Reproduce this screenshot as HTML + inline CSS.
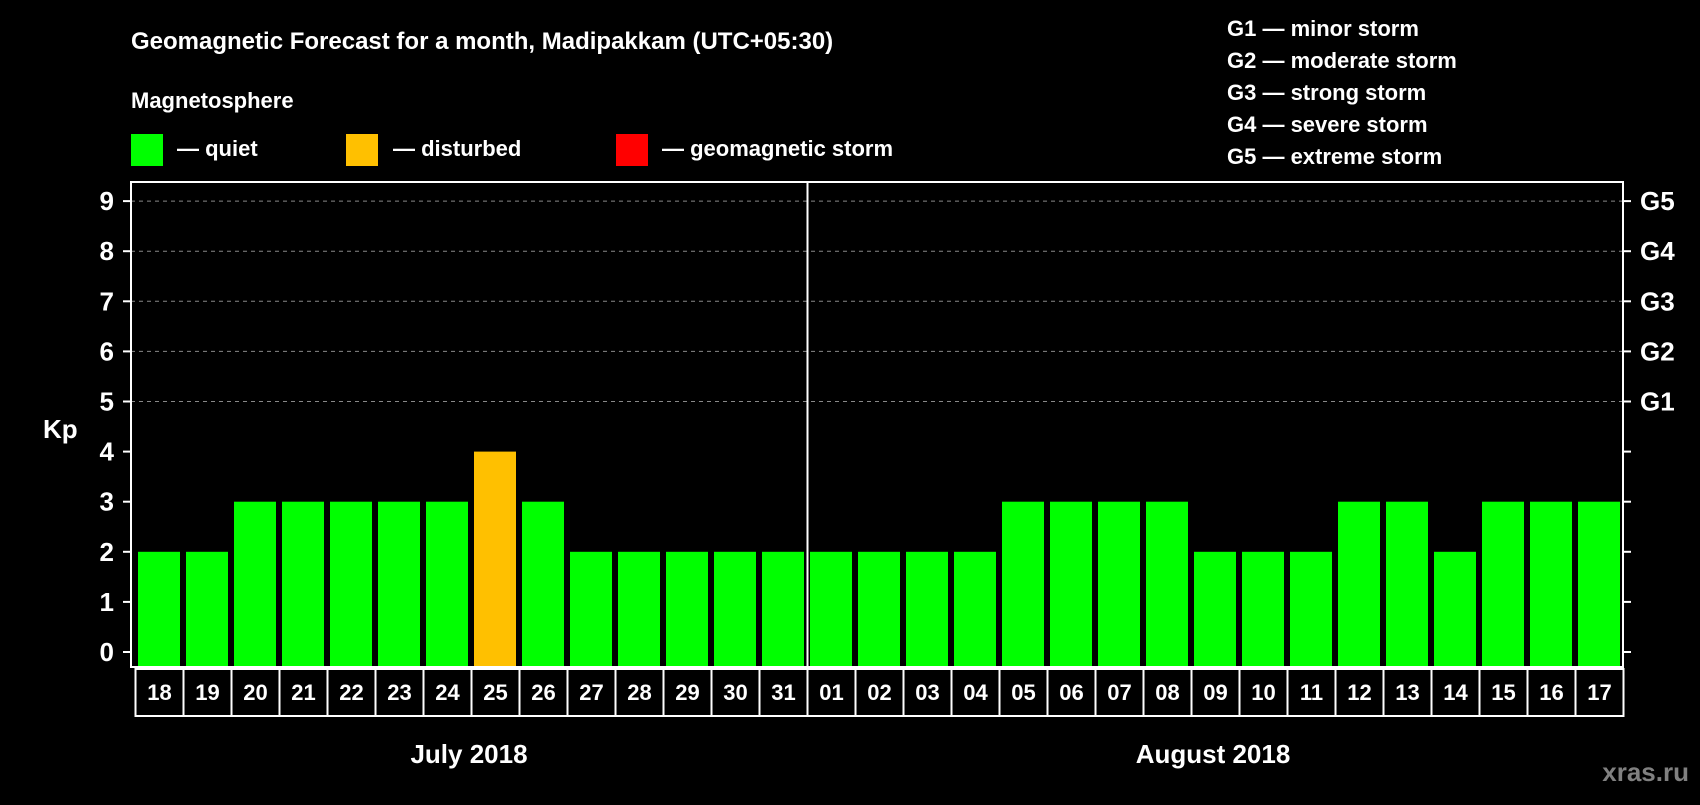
<!DOCTYPE html>
<html><head><meta charset="utf-8"><style>
body{margin:0;background:#000;width:1700px;height:800px;overflow:hidden}
svg text{font-family:"Liberation Sans",Arial,sans-serif;font-weight:bold;fill:#fff}
</style></head><body>
<svg id="c" width="1700" height="800">
<text x="131" y="49" font-size="24">Geomagnetic Forecast for a month, Madipakkam (UTC+05:30)</text>
<text x="131" y="108" font-size="22">Magnetosphere</text>
<rect x="131" y="134" width="32" height="32" fill="#00ff00"/>
<text x="177" y="156" font-size="22">— quiet</text>
<rect x="346" y="134" width="32" height="32" fill="#ffc000"/>
<text x="393" y="156" font-size="22">— disturbed</text>
<rect x="616" y="134" width="32" height="32" fill="#ff0000"/>
<text x="662" y="156" font-size="22">— geomagnetic storm</text>
<g font-size="22">
<text x="1227" y="36">G1 — minor storm</text>
<text x="1227" y="68">G2 — moderate storm</text>
<text x="1227" y="100">G3 — strong storm</text>
<text x="1227" y="132">G4 — severe storm</text>
<text x="1227" y="164">G5 — extreme storm</text>
</g>
<text x="43" y="438" font-size="26">Kp</text>
<text x="469" y="763" font-size="26" text-anchor="middle">July 2018</text>
<text x="1213" y="763" font-size="26" text-anchor="middle">August 2018</text>
<text x="1689" y="781" font-size="26" text-anchor="end" style="fill:#808080">xras.ru</text>
<g id="plot"></g>
</svg>
<script>
const days=["18","19","20","21","22","23","24","25","26","27","28","29","30","31","01","02","03","04","05","06","07","08","09","10","11","12","13","14","15","16","17"];
const kp=[2,2,3,3,3,3,3,4,3,2,2,2,2,2,2,2,2,2,3,3,3,3,2,2,2,3,3,2,3,3,3];
const yTicks=[0,1,2,3,4,5,6,7,8,9];
const gLabels=["G1","G2","G3","G4","G5"];
const NS="http://www.w3.org/2000/svg";
const g=document.getElementById('plot');
const L=131,R=1623,T=182,B=667,Y0=652,UNIT=50.1,X0=135.5,PITCH=48;
const y=v=>Y0-v*UNIT, x=i=>X0+i*PITCH;
function mk(t,a){const e=document.createElementNS(NS,t);for(const k in a)e.setAttribute(k,a[k]);g.appendChild(e);return e;}
yTicks.forEach(v=>{
 if(v>=5){const l=mk('line',{x1:L,x2:R,y1:y(v),y2:y(v),stroke:'#888','stroke-dasharray':'4,4','stroke-width':1});
 
 }
 const t1=mk('line',{x1:L-8,x2:L,y1:y(v),y2:y(v),stroke:'#fff','stroke-width':2});
 
 
 const t2=mk('line',{x1:R,x2:R+8,y1:y(v),y2:y(v),stroke:'#fff','stroke-width':2});
 
 
 const tx=mk('text',{x:114,y:y(v)+9,'font-size':26,'text-anchor':'end'});tx.textContent=v;
 
 
});
gLabels.forEach((s,i)=>{const tx=mk('text',{x:1640,y:y(5+i)+9,'font-size':26});tx.textContent=s;
 
 });
kp.forEach((v,i)=>{
 const col=v>=5?'#ff0000':(v>=4?'#ffc000':'#00ff00');
 const b=mk('rect',{x:x(i)+2.5,y:y(v),width:42,height:Y0-y(v)+14,fill:col});
 
 
 const bx=mk('rect',{x:x(i),y:669,width:PITCH,height:47,fill:'none',stroke:'#fff','stroke-width':2});
 
 
 const tx=mk('text',{x:x(i)+PITCH/2,y:700,'font-size':22,'text-anchor':'middle'});tx.textContent=days[i];
 
 
});
const fr=mk('rect',{x:L,y:T,width:R-L,height:B-T,fill:'none',stroke:'#fff','stroke-width':2});


const mi=days.indexOf("01");
const ml=mk('line',{x1:x(mi),x2:x(mi),y1:T,y2:B,stroke:'#fff','stroke-width':2});


</script>
</body></html>
